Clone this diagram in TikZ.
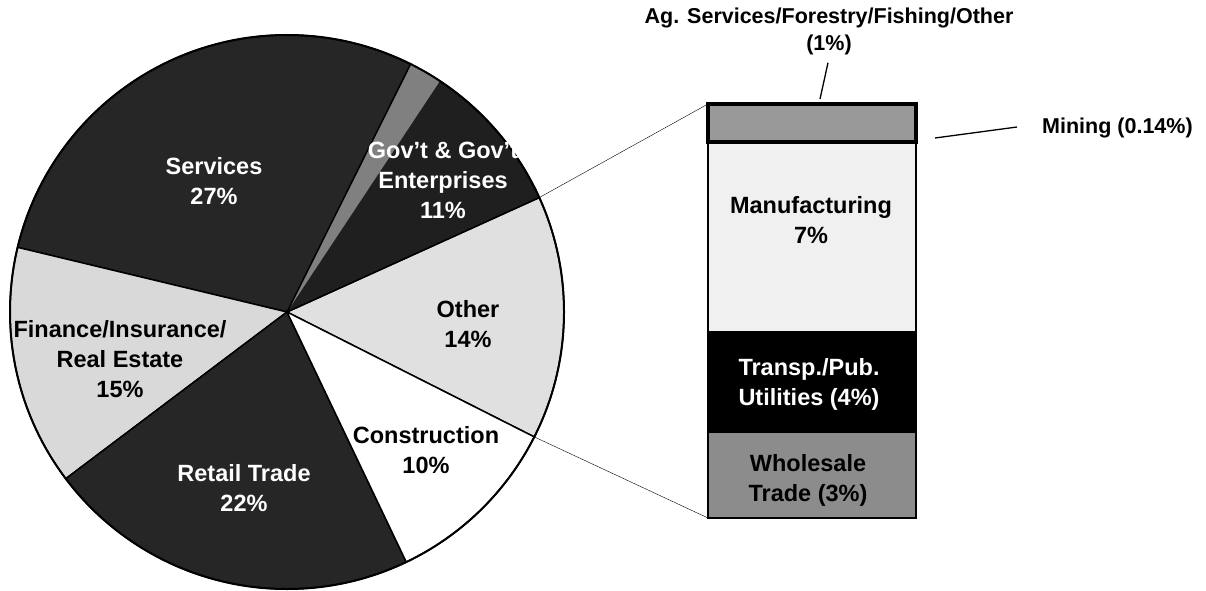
\documentclass[tikz,border=0pt]{standalone}
\usepackage{fontspec}
\setmainfont{Liberation Sans}
\usetikzlibrary{calc}
\begin{document}
\begin{tikzpicture}[x=1pt,y=1pt,
  lbl/.style={font=\fontsize{23.5}{30}\selectfont\bfseries,align=center,inner sep=0pt},
  wlbl/.style={lbl,text=white},
  olbl/.style={lbl,font=\fontsize{21.5}{27}\selectfont\bfseries},
  slice/.style={draw=black,line width=1.5pt},
  band/.style={draw=black,line width=1.2pt}]
\useasboundingbox (0,0) rectangle (1206,590);
\coordinate (O) at (287,278);
% pie
\filldraw[slice,fill=black!12] (O) -- +(-26.8:277) arc[start angle=-26.8,end angle=24.4,radius=277] -- cycle;
\filldraw[slice,fill=black!88] (O) -- +(24.4:277) arc[start angle=24.4,end angle=63.5,radius=277] -- cycle;
\fill[black!50] (O) -- +(56.5:277) arc[start angle=56.5,end angle=63.5,radius=277] -- cycle;
\filldraw[slice,fill=black!85] (O) -- +(63.5:277) arc[start angle=63.5,end angle=166.5,radius=277] -- cycle;
\filldraw[slice,fill=black!15] (O) -- +(166.5:277) arc[start angle=166.5,end angle=217,radius=277] -- cycle;
\filldraw[slice,fill=black!85] (O) -- +(217:277) arc[start angle=217,end angle=295.5,radius=277] -- cycle;
\filldraw[slice,fill=white] (O) -- +(295.5:277) arc[start angle=295.5,end angle=333.2,radius=277] -- cycle;
\draw[line width=2pt] (O) circle (277);
\coordinate (P1) at ($(O)+(24.4:277)$);
\coordinate (P2) at ($(O)+(-26.8:277)$);
\node[wlbl] (serv) at (214,409) {Services\\27\%};
\node[wlbl] (gov) at (443,410) {Gov't \& Gov't\\Enterprises\\11\%};
\node[lbl] (oth) at (468,266) {Other\\14\%};
\node[lbl] (fin) at (120,231) {Finance/Insurance/\\Real Estate\\15\%};
\node[lbl] (cons) at (426,140) {Construction\\10\%};
\node[wlbl] (ret) at (244,102) {Retail Trade\\22\%};
% bar
\coordinate (T) at (708,486);
\coordinate (B) at (708,72);
\filldraw[band,fill=black!6] (708,258) rectangle (916,448);
\filldraw[band,fill=black] (708,158) rectangle (916,258);
\filldraw[band,fill=black!45] (B) rectangle (916,158);
\filldraw[draw=black,line width=4pt,fill=black!40] (708,448) rectangle (T -| 916,486);
\node[lbl] (manu) at (811,370) {Manufacturing\\7\%};
\node[wlbl] (trans) at (809,206) {Transp./Pub.\\Utilities (4\%)};
\node[lbl] (whol) at (808,110) {Wholesale\\Trade (3\%)};
\node[olbl] (ag) at (829,559) {Ag. Services/Forestry/Fishing/Other\\(1\%)};
\node[olbl,anchor=west] (min) at (1042,462) {Mining (0.14\%)};
\coordinate (agend) at (820,491);
\coordinate (minend) at (935,452);
% leaders
\draw[thin] (P1) -- (T);
\draw[thin] (P2) -- (B);
\draw[line width=1.3pt] (ag.south) ++(-1,-8) -- (agend);
\draw[line width=1.3pt] (min.west) ++(-25,1) -- (minend);
\end{tikzpicture}
\end{document}
